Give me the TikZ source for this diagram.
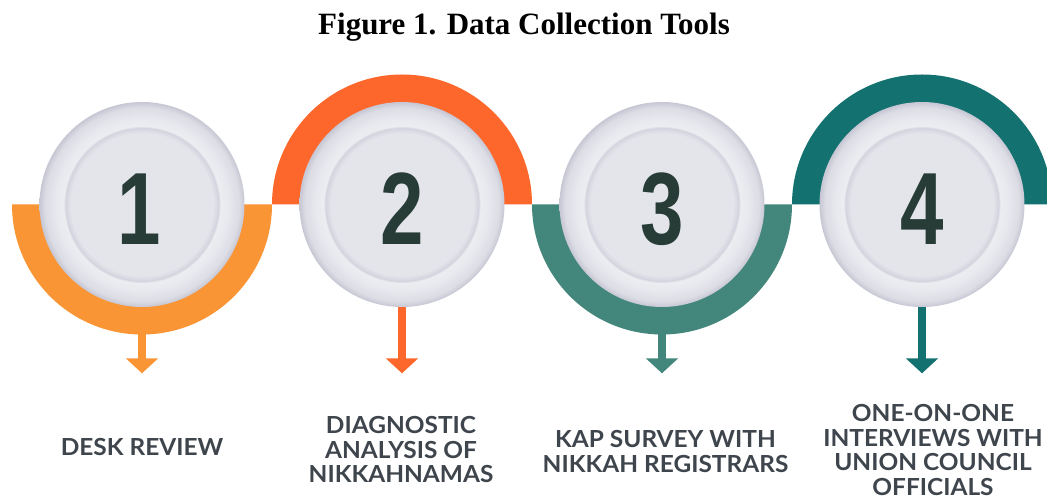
\documentclass[tikz,border=0pt]{standalone}
\usepackage{fontspec}
\setmainfont{Liberation Serif}
\newfontfamily\latofont{Lato}[FakeStretch=1.04]
\newfontfamily\digitfont{Liberation Sans}
\usetikzlibrary{arrows.meta}
\definecolor{cA}{HTML}{FA9535}
\definecolor{cB}{HTML}{FE672B}
\definecolor{cC}{HTML}{43877C}
\definecolor{cD}{HTML}{137170}
\definecolor{digitcol}{HTML}{273C36}
\definecolor{labelcol}{HTML}{3E454C}
\definecolor{gA}{HTML}{E4E5EB}
\definecolor{gD}{HTML}{D2D3DD}
\definecolor{gL}{HTML}{ECEDF1}
\definecolor{gK}{HTML}{E8E9EE}
\definecolor{gM}{HTML}{DCDDE5}
\definecolor{gE}{HTML}{C6C7D3}
\pgfdeclareradialshading{discshade}{\pgfpoint{0bp}{0bp}}{%
color(0bp)=(gA); color(17.4bp)=(gA); color(18.7bp)=(gD); color(19.1bp)=(gL);
color(21bp)=(gK); color(23.6bp)=(gM); color(25bp)=(gE); color(50bp)=(gE)}
\tikzset{
  disc/.style={circle, minimum size=205pt, inner sep=0pt, shading=discshade},
  digit/.style={font=\digitfont\bfseries\fontsize{102.7}{102.7}\selectfont, text=digitcol, inner sep=0pt, anchor=base},
  lbl/.style={font=\latofont\bfseries\fontsize{23.5}{24.4}\selectfont, text=labelcol, align=center, inner sep=0pt},
  pointer/.style={line width=7.5pt, -{Triangle[width=31.6pt,length=15pt]}},
}
\newcommand{\cond}[1]{\scalebox{0.76}[1]{#1}}
\begin{document}
\begin{tikzpicture}[x=1pt,y=1pt]
\useasboundingbox (0,0) rectangle (1047,498);
\fill[white] (0,0) rectangle (1047,498);
\begin{scope}
\clip (0,0) rectangle (1047,498);
% title
\node[font=\bfseries\fontsize{31}{31}\selectfont, anchor=base, inner sep=0pt] (title) at (524,463.5) {Figure 1. Data Collection Tools};
% half rings
\fill[cA] (12,293.5) arc[start angle=180,end angle=360,radius=130] -- cycle;
\fill[cB] (532,293.5) arc[start angle=0,end angle=180,radius=130] -- cycle;
\fill[cC] (532,293.5) arc[start angle=180,end angle=360,radius=130] -- cycle;
\fill[cD] (1052,293.5) arc[start angle=0,end angle=180,radius=130] -- cycle;
% ring bottoms and arrow tips
\coordinate (r1) at (142,163.5);
\coordinate (r3) at (662,163.5);
\coordinate (t1) at (142,124.7);
\coordinate (t2) at (402,124.7);
\coordinate (t3) at (662,124.7);
\coordinate (t4) at (922,124.7);
% discs
\node[disc] (n1) at (142,293.5) {};
\node[disc] (n2) at (402,293.5) {};
\node[disc] (n3) at (662,293.5) {};
\node[disc] (n4) at (922,293.5) {};
% arrows
\draw[pointer, cA] (r1) -- (t1);
\draw[pointer, cB] (n2.south) -- (t2);
\draw[pointer, cC] (r3) -- (t3);
\draw[pointer, cD] (n4.south) -- (t4);
% digits
\node[digit] (d1) at (139,253) {\cond{1}};
\node[digit] (d2) at (402,253) {\cond{2}};
\node[digit] (d3) at (662,253) {\cond{3}};
\node[digit] (d4) at (922,253) {\cond{4}};
% labels
\node[lbl] (l1) at (142,51) {DESK REVIEW};
\node[lbl] (l2) at (401,48.4) {DIAGNOSTIC\\ANALYSIS OF\\NIKKAHNAMAS};
\node[lbl] (l3) at (665.5,46.3) {KAP SURVEY WITH\\NIKKAH REGISTRARS};
\node[lbl] (l4) at (933,48) {ONE-ON-ONE\\INTERVIEWS WITH\\UNION COUNCIL\\OFFICIALS};
\end{scope}
\end{tikzpicture}
\end{document}
